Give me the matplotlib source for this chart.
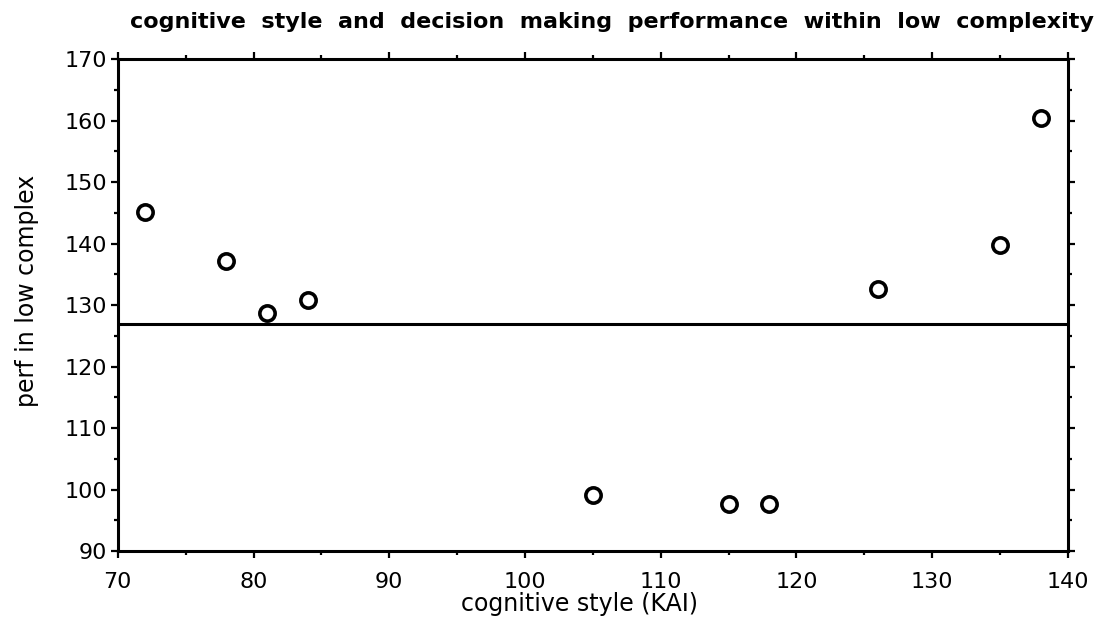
import matplotlib
matplotlib.use('Agg')
import matplotlib.pyplot as plt
from matplotlib.ticker import MultipleLocator

# values
kai = [72, 78, 81, 84, 105, 115, 118, 126, 135, 138]
perf = [145.2, 137.2, 128.7, 130.9, 99.2, 97.7, 97.7, 132.6, 139.8, 160.5]
mean_perf = 127.0

title = "cognitive  style  and  decision  making  performance  within  low  complexity"
xlabel = "cognitive style (KAI)"
ylabel = "perf in low complex"

plt.rcParams['font.family'] = ['DejaVu Sans']

fig = plt.figure(figsize=(11.01, 6.22), dpi=100)
ax = fig.add_axes([0.107, 0.114, 0.863, 0.791])

ax.plot(kai, perf, linestyle='none', marker='o', markersize=11,
        markerfacecolor='white', markeredgecolor='black', markeredgewidth=2.6)
ax.axhline(mean_perf, color='black', linewidth=2.2)

ax.set_xlim(70, 140)
ax.set_ylim(90, 170)
ax.xaxis.set_major_locator(MultipleLocator(10))
ax.xaxis.set_minor_locator(MultipleLocator(5))
ax.yaxis.set_major_locator(MultipleLocator(10))
ax.yaxis.set_minor_locator(MultipleLocator(5))

for s in ax.spines.values():
    s.set_linewidth(2.2)

ax.tick_params(which='both', direction='out', top=True, right=True,
               width=1.6, labelsize=16)
ax.tick_params(which='major', length=5)
ax.tick_params(which='minor', length=3)
ax.tick_params(axis='x', pad=10)
ax.tick_params(axis='y', pad=3)

ax.set_xlabel(xlabel, fontsize=17)
ax.set_ylabel(ylabel, fontsize=17)
ax.xaxis.set_label_coords(0.486, -0.108)
ax.yaxis.set_label_coords(-0.096, 0.528)
ax.xaxis.label.set_va('center')
ax.yaxis.label.set_va('center')
fig.text(0.556, 0.965, title, fontsize=16, fontweight='bold',
         ha='center', va='center')

fig.savefig('out.png', dpi=100)
